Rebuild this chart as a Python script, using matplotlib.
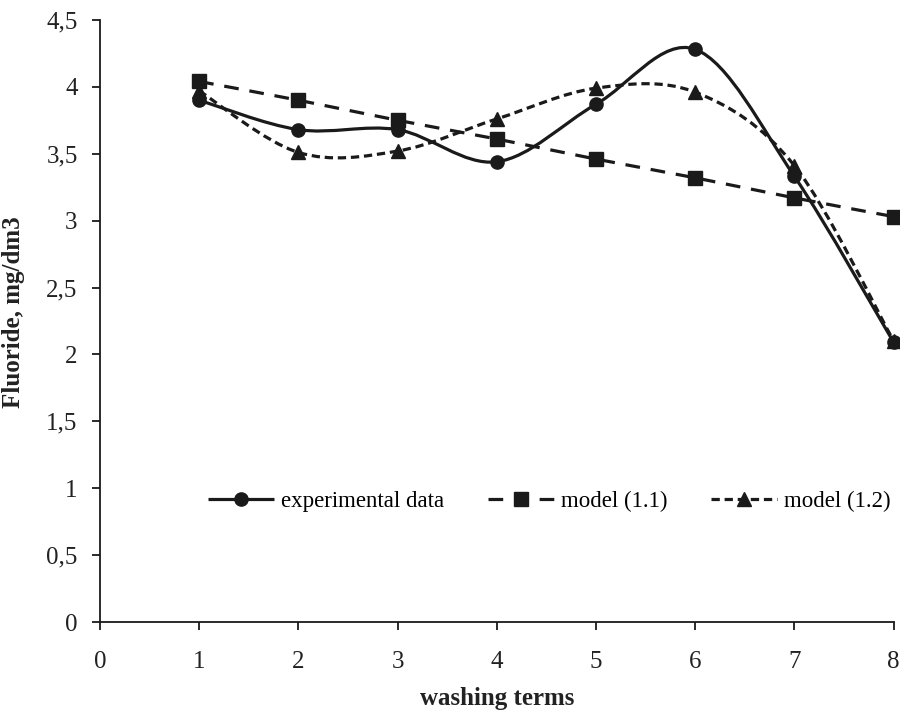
import numpy as np
import matplotlib.pyplot as plt
from matplotlib.path import Path
from matplotlib.patches import PathPatch
from matplotlib.lines import Line2D
from matplotlib.ticker import FuncFormatter

plt.rcParams['font.family'] = ['Liberation Serif', 'DejaVu Serif']

## Data
terms = [1, 2, 3, 4, 5, 6, 7, 8]
experimental = [3.90, 3.68, 3.68, 3.44, 3.87, 4.28, 3.33, 2.09]
model_11 = [4.04, 3.90, 3.75, 3.61, 3.46, 3.32, 3.17, 3.03]
model_12 = [3.97, 3.51, 3.52, 3.76, 3.99, 3.96, 3.41, 2.10]

series = [
    ("experimental data", experimental, "o", (0, ())),
    ("model (1.1)", model_11, "s", (0, (4.6, 3.4))),
    ("model (1.2)", model_12, "^", (0, (2.6, 1.5))),
]


def smooth_path(x, y):
    # Excel-style smoothed line: cubic Bezier segments (Catmull-Rom)
    x = np.asarray(x, float)
    y = np.asarray(y, float)
    px = np.concatenate([[x[0]], x, [x[-1]]])
    py = np.concatenate([[y[0]], y, [y[-1]]])
    verts = [(x[0], y[0])]
    codes = [Path.MOVETO]
    for i in range(1, len(x)):
        c1 = (px[i] + (px[i + 1] - px[i - 1]) / 6, py[i] + (py[i + 1] - py[i - 1]) / 6)
        c2 = (px[i + 1] - (px[i + 2] - px[i]) / 6, py[i + 1] - (py[i + 2] - py[i]) / 6)
        verts += [c1, c2, (x[i], y[i])]
        codes += [Path.CURVE4] * 3
    return Path(verts, codes)


fig = plt.figure(figsize=(9, 7.11), dpi=100)
ax = fig.add_axes([0.111, 0.125, 0.882, 0.847])

handles = []
for label, vals, marker, dash in series:
    patch = PathPatch(smooth_path(terms, vals), facecolor="none", edgecolor="#1a1a1a",
                      linewidth=2.3, linestyle=dash, clip_on=False)
    ax.add_patch(patch)
    ax.plot(terms, vals, linestyle="none", marker=marker, markersize=9.5,
            color="#1a1a1a", clip_on=False, zorder=3)
    handles.append(Line2D([], [], color="#1a1a1a", linewidth=2.3, linestyle=dash,
                          marker=marker, markersize=9.5, label=label))

ax.set_xlim(0, 8)
ax.set_ylim(0, 4.5)
ax.set_xticks(range(0, 9))
ax.set_yticks(np.arange(0, 4.51, 0.5))
ax.yaxis.set_major_formatter(FuncFormatter(lambda v, p: f"{v:g}".replace(".", ",")))

for s in ["top", "right"]:
    ax.spines[s].set_visible(False)
for s in ["left", "bottom"]:
    ax.spines[s].set_linewidth(1.3)
    ax.spines[s].set_color("#1a1a1a")
ax.tick_params(axis="both", direction="out", length=6, width=1.3, colors="#1a1a1a",
               labelsize=18, labelcolor="#222222")
ax.tick_params(axis="x", pad=15)
ax.tick_params(axis="y", pad=10)

ax.set_xlabel("washing terms", fontsize=18, fontweight="bold", labelpad=10, color="#222222")
ax.set_ylabel("Fluoride, mg/dm3", fontsize=18, fontweight="bold", color="#222222")
ax.yaxis.set_label_coords(-0.094, 0.515)

ax.legend(handles=handles, loc="center", bbox_to_anchor=(0.566, 0.2), ncol=3,
          frameon=False, fontsize=16.5, handlelength=2.9, handletextpad=0.3, columnspacing=1.9)

fig.savefig("out.png", dpi=100)
